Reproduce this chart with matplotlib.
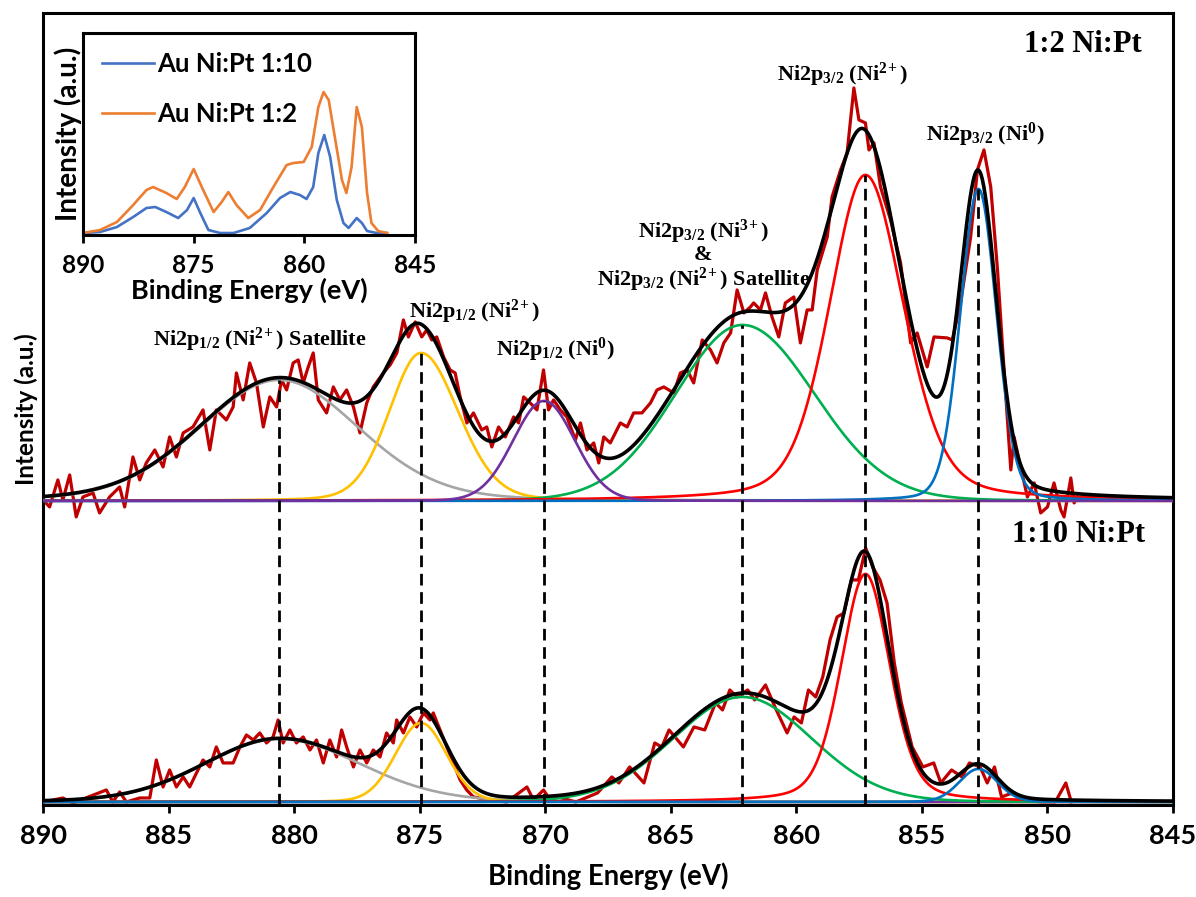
import numpy as np
import matplotlib
matplotlib.use("Agg")
import matplotlib.pyplot as plt

plt.rcParams["font.family"] = ["Lato", "DejaVu Sans"]
plt.rcParams["font.weight"] = "bold"
plt.rcParams["mathtext.fontset"] = "custom"
plt.rcParams["mathtext.rm"] = "Liberation Serif:bold"
plt.rcParams["mathtext.default"] = "rm"

# fitted components (centre in eV, height, fwhm on high/low BE side, lorentz fraction)
comp_colors = ["#A5A5A5", "#FFC000", "#7030A0", "#00B050", "#FF0000", "#0070C0"]
centers = [880.6, 874.95, 870.05, 862.15, 857.25, 852.75]

top_height = [121, 148, 100, 176, 326, 312]
top_fwhm_hi = [7.5, 3.0, 2.9, 6.3, 3.4, 1.7]
top_fwhm_lo = [7.5, 3.5, 2.9, 6.8, 3.6, 1.7]
top_mix = [0.15, 0.15, 0.05, 0.05, 0.3, 0.15]

bot_height = [63, 79, 1, 105, 228, 33]
bot_fwhm_hi = [7.0, 2.4, 3.0, 6.5, 2.3, 1.8]
bot_fwhm_lo = [7.6, 2.4, 3.0, 6.5, 2.3, 1.8]
bot_mix = [0.1, 0.1, 0.0, 0.05, 0.3, 0.1]

top_offset = 301

# raw spectrum, 1:2 Ni:Pt
raw_top_ev = [890.00, 889.74, 889.41, 889.21, 888.94, 888.68, 888.41, 888.01, 887.75, 887.35,
              886.95, 886.75, 886.42, 886.15, 885.89, 885.55, 885.22, 884.96, 884.69, 884.42,
              884.03, 883.63, 883.36, 883.10, 882.70, 882.43, 882.30, 882.03, 881.77, 881.50,
              881.23, 880.97, 880.70, 880.50, 880.30, 880.04, 879.84, 879.64, 879.44, 879.24,
              879.04, 878.71, 878.44, 878.18, 877.91, 877.64, 877.38, 877.11, 876.85, 876.45,
              876.18, 875.91, 875.65, 875.45, 875.18, 874.92, 874.72, 874.52, 874.32, 874.05,
              873.79, 873.59, 873.39, 873.12, 872.86, 872.53, 872.33, 872.13, 871.86, 871.59,
              871.26, 871.06, 870.86, 870.60, 870.33, 870.07, 869.87, 869.67, 869.40, 869.14,
              868.80, 868.60, 868.34, 868.07, 867.87, 867.67, 867.41, 867.01, 866.74, 866.48,
              866.15, 865.81, 865.55, 865.28, 864.88, 864.62, 864.35, 864.09, 863.75, 863.42,
              863.16, 862.89, 862.62, 862.36, 862.09, 861.83, 861.70, 861.43, 861.23, 860.97,
              860.70, 860.44, 860.10, 859.84, 859.57, 859.37, 859.17, 858.77, 858.58, 858.24,
              857.98, 857.71, 857.51, 857.25, 857.11, 856.91, 856.65, 856.25, 855.85, 855.45,
              855.19, 854.79, 854.52, 853.99, 853.79, 853.46, 853.06, 852.79, 852.53, 852.26,
              851.99, 851.73, 851.46, 851.33, 851.07, 850.80, 850.53, 850.27, 850.00, 849.74,
              849.47, 849.34, 849.07, 848.94, 848.81]
raw_top_int = [1, -6, 21, 1, 26, -16, 4, 8, -12, 4,
               14, -6, 44, 21, 38, 51, 34, 64, 44, 68,
               74, 91, 51, 91, 81, 94, 128, 101, 138, 118,
               74, 104, 94, 121, 111, 138, 141, 118, 134, 148,
               101, 88, 114, 101, 111, 94, 68, 98, 114, 128,
               136, 148, 181, 164, 179, 164, 171, 161, 164, 144,
               131, 128, 104, 78, 88, 71, 74, 54, 74, 64,
               84, 78, 104, 98, 91, 131, 91, 101, 91, 84,
               61, 78, 51, 58, 38, 64, 58, 78, 74, 88,
               88, 98, 111, 114, 108, 128, 131, 118, 161, 151,
               138, 158, 168, 211, 188, 194, 198, 191, 208, 184,
               164, 198, 204, 158, 191, 191, 231, 264, 304, 331,
               348, 413, 381, 378, 351, 358, 314, 281, 238, 158,
               168, 134, 164, 163, 161, 198, 264, 331, 351, 314,
               231, 131, 31, 64, 34, 4, 18, -12, -6, 18,
               -9, -16, 23, -2, 4]

# raw spectrum, 1:10 Ni:Pt
raw_bot_ev = [890.00, 889.21, 888.81, 887.48, 887.22, 886.95, 886.68, 886.15, 885.75, 885.49,
              885.22, 884.96, 884.69, 884.42, 884.16, 883.89, 883.63, 883.36, 883.10, 882.83,
              882.43, 882.16, 881.90, 881.63, 881.37, 881.10, 880.84, 880.64, 880.44, 880.17,
              879.91, 879.64, 879.37, 879.11, 878.84, 878.58, 878.31, 878.11, 877.91, 877.64,
              877.38, 877.11, 876.85, 876.58, 876.32, 876.05, 875.92, 875.65, 875.39, 875.12,
              874.85, 874.59, 874.46, 874.19, 873.92, 873.66, 873.39, 873.13, 872.86, 872.20,
              871.53, 870.73, 870.47, 870.07, 869.80, 869.49, 868.78, 867.92, 867.35, 867.07,
              866.64, 866.07, 865.64, 865.36, 865.07, 864.50, 864.08, 863.65, 863.22, 862.94,
              862.65, 862.37, 861.94, 861.66, 861.23, 860.80, 860.37, 860.09, 859.80, 859.52,
              859.23, 858.95, 858.66, 858.38, 858.10, 857.81, 857.53, 857.24, 856.96, 856.67,
              856.39, 856.10, 855.82, 855.39, 854.96, 854.53, 854.25, 853.82, 853.40, 853.11,
              852.68, 852.40, 852.11, 851.83, 851.40, 850.97, 850.26, 849.69, 849.27, 849.05]
raw_bot_int = [0, 4, -1, 12, 0, 10, 0, 4, 4, 42,
               15, 32, 15, 25, 15, 29, 42, 35, 55, 39,
               39, 55, 67, 62, 69, 59, 65, 82, 59, 72,
               59, 65, 52, 62, 39, 62, 45, 72, 55, 35,
               52, 39, 52, 45, 69, 59, 82, 69, 85, 75,
               89, 82, 89, 72, 55, 39, 22, 12, 5, 2,
               0, 15, 2, 12, 2, 5, 0, 9, 25, 19,
               35, 19, 59, 55, 72, 55, 75, 72, 99, 92,
               112, 105, 112, 102, 117, 92, 69, 85, 79, 112,
               105, 125, 162, 185, 189, 222, 222, 254, 235, 222,
               199, 139, 99, 55, 35, 39, 19, 32, 25, 39,
               35, 19, 35, 5, 9, 2, 0, 0, 19, 0]

# inset: smoothed survey of both samples
inset_ev = [890.0, 887.7, 885.4, 883.2, 881.4, 880.5, 878.7, 877.3, 876.2, 875.0,
            873.9, 872.3, 871.2, 870.3, 869.2, 867.6, 866.0, 864.2, 862.4, 861.5,
            860.1, 859.0, 858.1, 857.4, 856.7, 855.8, 854.9, 854.3, 853.6, 852.9,
            852.2, 851.5, 850.9, 850.0, 848.8]
inset_12 = [0, 3, 11, 28, 43, 46, 40, 34, 46, 64,
            46, 21, 31, 41, 28, 15, 23, 46, 68, 70,
            71, 86, 126, 141, 133, 93, 53, 40, 66, 126,
            106, 40, 10, 2, 0]
inset_110_ev = [890.0, 887.7, 885.4, 883.2, 881.4, 880.2, 878.7, 877.1, 875.9, 875.0,
                874.1, 873.0, 871.4, 869.6, 867.4, 865.1, 863.3, 861.9, 860.6, 859.7,
                858.8, 858.1, 857.3, 856.5, 855.6, 854.7, 854.0, 852.9, 852.2, 851.5,
                850.2, 848.8]
inset_110 = [0, 1, 6, 16, 25, 26, 21, 15, 23, 35,
             20, 3, 0, 0, 5, 20, 35, 41, 38, 34,
             46, 80, 98, 76, 33, 10, 5, 15, 10, 2,
             0, 0]

labels = [r"Ni2p$_{1/2}$ (Ni$^{2\!+}$) Satellite", r"Ni2p$_{1/2}$ (Ni$^{2\!+}$)",
          r"Ni2p$_{1/2}$ (Ni$^{0}$)", r"Ni2p$_{3/2}$ (Ni$^{3\!+}$)", "&",
          r"Ni2p$_{3/2}$ (Ni$^{2\!+}$) Satellite", r"Ni2p$_{3/2}$ (Ni$^{2\!+}$)",
          r"Ni2p$_{3/2}$ (Ni$^{0}$)"]
label_x = [881.37, 872.8, 869.6, 863.7, 863.7, 863.7, 858.16, 852.46]
label_y = [462, 490, 452, 570, 547, 522, 727, 667]


def peak(x, c, h, w_hi, w_lo, m):
    w = np.where(x >= c, w_hi, w_lo)
    u = ((x - c) / w) ** 2
    return h * ((1 - m) * np.exp(-4 * np.log(2) * u) + m / (1 + 4 * u))


x = np.linspace(890, 845, 1500)
fig = plt.figure(figsize=(11.96, 8.97), dpi=100)
ax = fig.add_axes([0.036, 0.1026, 0.9448, 0.883])

ax.plot(raw_top_ev, np.array(raw_top_int) + top_offset, color="#C00000", lw=2.3,
        solid_joinstyle="round", zorder=2)
ax.plot(raw_bot_ev, raw_bot_int, color="#C00000", lw=2.3, solid_joinstyle="round", zorder=2)

top_curves = [peak(x, centers[i], top_height[i], top_fwhm_hi[i], top_fwhm_lo[i], top_mix[i])
              for i in range(6)]
bot_curves = [peak(x, centers[i], bot_height[i], bot_fwhm_hi[i], bot_fwhm_lo[i], bot_mix[i])
              for i in range(6)]
for i in [0, 1, 3, 4, 5, 2]:
    ax.plot(x, top_curves[i] + top_offset, color=comp_colors[i], lw=1.9, zorder=3)
for i in [0, 1, 2, 3, 4, 5]:
    ax.plot(x, bot_curves[i], color=comp_colors[i], lw=1.9, zorder=3)
ax.plot(x, np.sum(top_curves, axis=0) + top_offset, color="black", lw=2.6, zorder=4)
ax.plot(x, np.sum(bot_curves, axis=0), color="black", lw=2.6, zorder=4)

ax.set_xlim(890, 845)
ax.set_ylim(-3, 789)
ax.vlines(centers, -3, np.array(top_height) + top_offset, colors="black", lw=2.0,
          linestyles=(0, (4.2, 2.4)), zorder=5)

for s, lx, ly in zip(labels, label_x, label_y):
    ax.text(lx, ly, s, ha="center", va="center", fontsize=16, fontweight="bold",
            family="Liberation Serif", zorder=6)
ax.text(848.6, 757, "1:2 Ni:Pt", ha="center", va="center", fontsize=22,
        fontweight="bold", family="Liberation Serif")
ax.text(848.75, 267, "1:10 Ni:Pt", ha="center", va="center", fontsize=22,
        fontweight="bold", family="Liberation Serif")

ax.set_xticks(np.arange(845, 891, 5))
ax.set_yticks([])
ax.tick_params(axis="x", direction="out", length=6, width=2, labelsize=19.5, pad=8)
ax.set_xlabel("Binding Energy (eV)", fontsize=19.8, fontweight="bold", labelpad=10)
ax.set_ylabel("Intensity (a.u.)", fontsize=17.5, fontweight="bold", labelpad=4)
for sp in ax.spines.values():
    sp.set_linewidth(2.2)

# inset
axi = fig.add_axes([0.0694, 0.738, 0.2776, 0.2252])
axi.plot(inset_110_ev, inset_110, color="#4472C4", lw=1.9, label="Au Ni:Pt 1:10",
         solid_joinstyle="round")
axi.plot(inset_ev, inset_12, color="#ED7D31", lw=1.9, label="Au Ni:Pt 1:2",
         solid_joinstyle="round")
axi.set_xlim(890, 845)
axi.set_ylim(-2, 200)
axi.set_xticks([890, 875, 860, 845])
axi.set_yticks([])
axi.tick_params(axis="x", direction="out", length=6, width=2, labelsize=17.5, pad=8)
axi.set_xlabel("Binding Energy (eV)", fontsize=19.5, fontweight="bold", labelpad=0)
axi.set_ylabel("Intensity (a.u.)", fontsize=20, fontweight="bold", labelpad=1)
for sp in axi.spines.values():
    sp.set_linewidth(2.2)
axi.legend(loc="upper left", frameon=False, fontsize=18.5, handlelength=2.0,
           handletextpad=0.15, labelspacing=1.0, borderaxespad=0.35)

fig.savefig("out.png", dpi=100)
